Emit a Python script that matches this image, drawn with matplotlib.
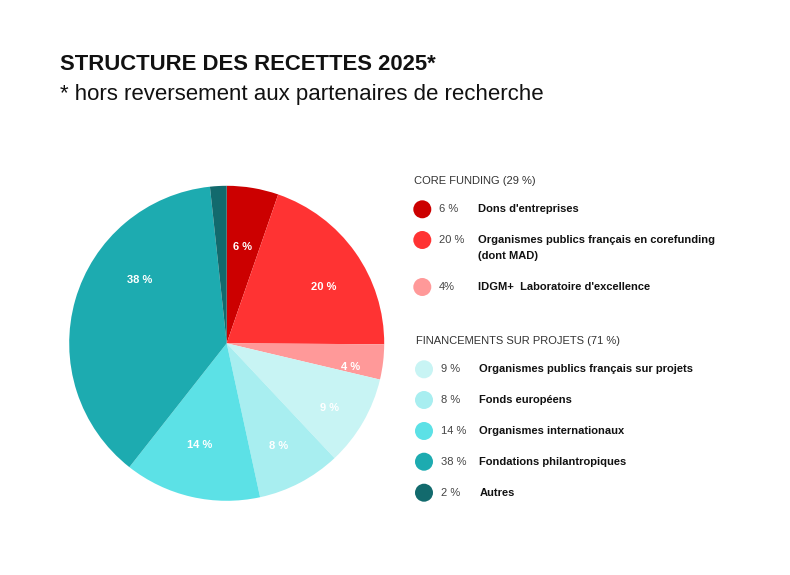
import matplotlib
matplotlib.use("Agg")
import matplotlib.pyplot as plt
import numpy as np

plt.rcParams['font.family'] = ['Liberation Sans', 'DejaVu Sans']

# ---- data ----
shares = [5.3, 19.8, 3.6, 9.3, 8.6, 14.0, 37.7, 1.7]          # slice sizes
pct_labels = ["6 %", "20 %", "4 %", "9 %", "8 %", "14 %", "38 %", "2 %"]
legend_pcts = ["6 %", "20 %", "4%", "9 %", "8 %", "14 %", "38 %", "2 %"]
categories = ["Dons d'entreprises",
              "Organismes publics français en corefunding\n(dont MAD)",
              "IDGM+  Laboratoire d'excellence",
              "Organismes publics français sur projets",
              "Fonds européens",
              "Organismes internationaux",
              "Fondations philantropiques",
              "Autres"]
colors = ["#CC0000", "#FF3333", "#FF9999", "#C8F4F4", "#A8EEF0",
          "#5CE1E6", "#1DABB0", "#126A6D"]
groups = ["CORE FUNDING (29 %)", "FINANCEMENTS SUR PROJETS (71 %)"]
group_members = [[0, 1, 2], [3, 4, 5, 6, 7]]
show_in_pie = [True, True, True, True, True, True, True, False]

W, H = 790, 575
fig = plt.figure(figsize=(W / 100, H / 100), dpi=100)

def fx(px):
    return px / W

def fy(py):
    return 1 - py / H

# ---- pie ----
cx, cy, R = 226.7, 343.3, 157.5
ax = fig.add_axes([fx(cx - R), fy(cy + R), 2 * R / W, 2 * R / H])
wedges, _ = ax.pie(shares, colors=colors, startangle=90, counterclock=False,
                   radius=1, wedgeprops=dict(linewidth=0))
ax.set_xlim(-1, 1)
ax.set_ylim(-1, 1)
ax.set_aspect('equal')
ax.axis('off')

label_r = [0.62, 0.71, 0.80, 0.77, 0.73, 0.67, 0.68, 0.7]
label_shift = [0, 5, 4, 2, 1, 2, 20, 0]   # degrees (clockwise positive)
cum = np.cumsum([0] + shares)
tot = cum[-1]
for i, lab in enumerate(pct_labels):
    if not show_in_pie[i]:
        continue
    mid = (cum[i] + cum[i + 1]) / 2 / tot * 360 + label_shift[i]
    th = np.deg2rad(90 - mid)
    ax.text(label_r[i] * np.cos(th), label_r[i] * np.sin(th), lab,
            ha='center', va='center', color='white', fontsize=8,
            fontweight='bold')

# ---- titles ----
fig.text(fx(60), fy(69.5), "STRUCTURE DES RECETTES 2025*", fontsize=15.9,
         fontweight='bold', color='#111111', ha='left', va='baseline')
fig.text(fx(60), fy(100), "* hors reversement aux partenaires de recherche",
         fontsize=16, color='#111111', ha='left', va='baseline')

# ---- legend ----
header_y = [181, 341]
header_x = [414, 416]
row_y = [[209.3, 240, 287], [369.3, 400, 431, 461.7, 492.7]]
circ_x = [422.3, 424]
pct_x = [439, 441]
lab_x = [477.7, 479.3]
FS = 8
for g in range(2):
    fig.text(fx(header_x[g]), fy(header_y[g]), groups[g], fontsize=FS,
             color='#333333', ha='left', va='center')
    for k, idx in enumerate(group_members[g]):
        y = row_y[g][k]
        fig.patches.append(matplotlib.patches.Ellipse(
            (fx(circ_x[g]), fy(y)), 18 / W, 18 / H, transform=fig.transFigure,
            facecolor=colors[idx], edgecolor='none'))
        fig.text(fx(pct_x[g]), fy(y), legend_pcts[idx], fontsize=FS,
                 color='#444444', ha='left', va='center')
        for j, line in enumerate(categories[idx].split("\n")):
            fig.text(fx(lab_x[g]), fy(y + 16 * j), line, fontsize=FS,
                     color='#111111', fontweight='bold', ha='left', va='center')

fig.savefig("out.png", dpi=100, facecolor='white')
